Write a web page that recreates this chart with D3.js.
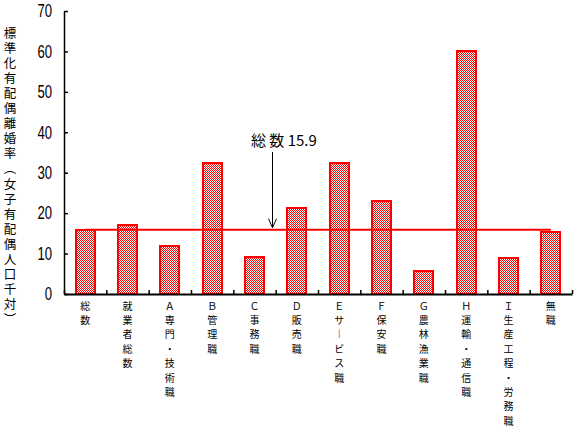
<!DOCTYPE html>
<html><head><meta charset="utf-8">
<script src="https://cdn.jsdelivr.net/npm/d3@7"></script>
<style>
html,body{margin:0;padding:0;background:#fff;}
svg{display:block;}
</style></head>
<body>
<svg id="c" width="577" height="430"></svg>
<script>
const categories = ["総数","就業者総数","Ａ専門・技術職","Ｂ管理職","Ｃ事務職","Ｄ販売職","Ｅサービス職","Ｆ保安職","Ｇ農林漁業職","Ｈ運輸・通信職","Ｉ生産工程・労務職","無職"];
const values = [15.9, 17.0, 11.8, 32.3, 9.1, 21.2, 32.4, 23.0, 5.7, 60.0, 8.8, 15.3];
const yTicks = [0,10,20,30,40,50,60,70];
const totalValue = 15.9;
const annotationLabel = "総 数 15.9";
const yTitle = "標準化有配偶離婚率︵女子有配偶人口千対︶";

const svg = d3.select("#c");
const red = "#ff0000";
const cjk = "'Noto Sans CJK JP','Noto Sans CJK SC',sans-serif";

const defs = svg.append("defs");
const pat = defs.append("pattern").attr("id","chk").attr("patternUnits","userSpaceOnUse")
  .attr("width",2).attr("height",2);
pat.append("rect").attr("width",2).attr("height",2).attr("fill","#fff");
pat.append("rect").attr("x",0).attr("y",0).attr("width",1).attr("height",1).attr("fill",red);
pat.append("rect").attr("x",1).attr("y",1).attr("width",1).attr("height",1).attr("fill",red);

const y = d3.scaleLinear().domain([0,70]).range([294,11]);
const x = d3.scaleBand().domain(categories).range([64,572]).paddingInner(0.5).paddingOuter(0.25);
const xb = d3.scaleLinear().domain([0,categories.length]).range([64,572]);

// bars
svg.append("g").selectAll("rect").data(categories).join("rect")
  .attr("x", d => x(d)+1)
  .attr("y", (d,i) => y(values[i]))
  .attr("width", x.bandwidth()-2)
  .attr("height", (d,i) => y(0)-y(values[i]))
  .attr("fill","url(#chk)")
  .attr("stroke",red).attr("stroke-width",2)
  .attr("shape-rendering","crispEdges");

// y axis
const ya = svg.append("g").attr("transform","translate(64,0)")
  .call(d3.axisLeft(y).tickValues(yTicks).tickSizeInner(-4).tickSizeOuter(0).tickPadding(12));
ya.select(".domain").attr("stroke","#000").attr("stroke-width",1.5);
ya.selectAll(".tick line").attr("stroke","#000").attr("stroke-width",1.5);
ya.selectAll(".tick text")
  .attr("font-family","'Liberation Sans Narrow','Liberation Sans',sans-serif")
  .attr("font-size",18).attr("fill","#000")
  .attr("textLength", d => String(d).length*7.3)
  .attr("lengthAdjust","spacingAndGlyphs");

// x axis
const xa = svg.append("g").attr("transform","translate(0,294)")
  .call(d3.axisBottom(xb).tickValues(d3.range(categories.length+1)).tickSizeInner(-4).tickSizeOuter(0).tickFormat(""));
xa.select(".domain").attr("stroke","#000").attr("stroke-width",2);
xa.selectAll(".tick line").attr("stroke","#000").attr("stroke-width",1.5);

// total line
svg.append("line")
  .attr("x1", x(categories[0]) + x.bandwidth()/2)
  .attr("x2", x(categories[categories.length-1]) + x.bandwidth()/2)
  .attr("y1", y(totalValue)).attr("y2", y(totalValue))
  .attr("stroke",red).attr("stroke-width",2);

// x labels (vertical stacked, one text per character)
const vmap = {"ー":"︱"};
categories.forEach((c) => {
  const cx = x(c) + x.bandwidth()/2;
  Array.from(c).forEach((ch, j) => {
    svg.append("text")
      .attr("x", cx).attr("y", 306 + j*14.4)
      .attr("dy","0.36em")
      .attr("text-anchor","middle")
      .attr("font-family", cjk).attr("font-size", 10).attr("fill","#000")
      .text(vmap[ch] || ch);
  });
});

// y title (vertical stacked)
Array.from(yTitle).forEach((ch, j) => {
  svg.append("text")
    .attr("x", 10).attr("y", 33.3 + j*15.07)
    .attr("dy","0.36em")
    .attr("text-anchor","middle")
    .attr("font-family", cjk).attr("font-size", 12.5).attr("fill","#000")
    .text(ch);
});

// annotation
const ax = 272.5;
svg.append("text").attr("x",251).attr("y",146)
  .attr("font-family", cjk).attr("font-size",15).attr("fill","#000")
  .text(annotationLabel);
svg.append("line").attr("x1",ax).attr("x2",ax).attr("y1",152).attr("y2",y(totalValue)-2)
  .attr("stroke","#000").attr("stroke-width",1);
svg.append("path")
  .attr("d", `M${ax-4},${y(totalValue)-11} L${ax},${y(totalValue)-2} L${ax+4},${y(totalValue)-11}`)
  .attr("fill","none").attr("stroke","#000").attr("stroke-width",1);
</script>
</body></html>
